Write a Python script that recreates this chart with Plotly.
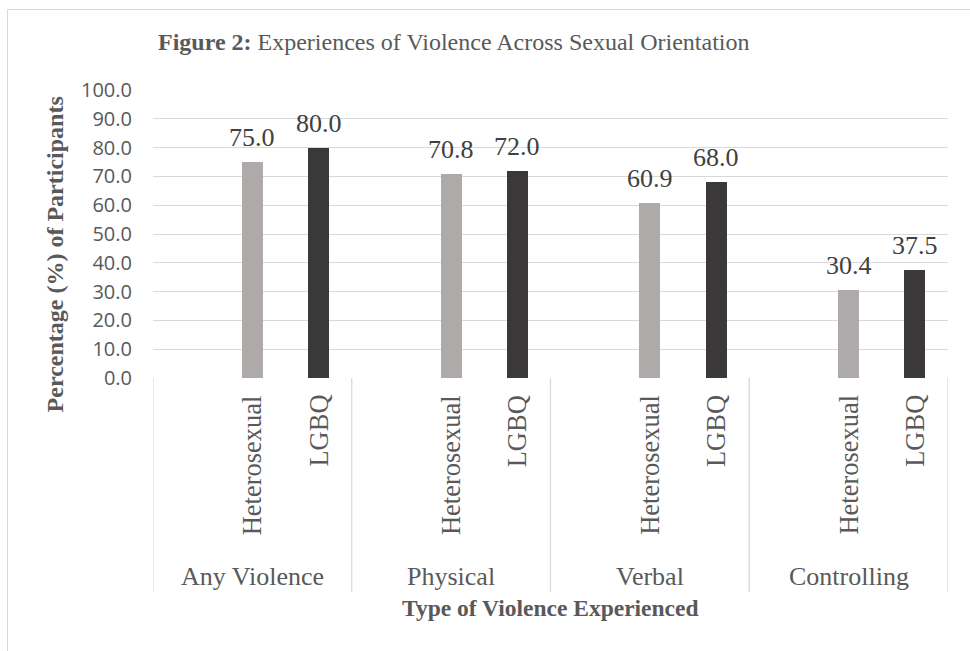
import plotly.graph_objects as go

groups = ["Any Violence", "Physical", "Verbal", "Controlling"]
orientations = ["Heterosexual", "LGBQ"]
hetero = [75.0, 70.8, 60.9, 30.4]
lgbq = [80.0, 72.0, 68.0, 37.5]
y_ticks = [0, 10, 20, 30, 40, 50, 60, 70, 80, 90, 100]

SLOTS = 3  # each group: blank slot, Heterosexual, LGBQ
het_x = [SLOTS * i + 1 for i in range(len(groups))]
lgbq_x = [SLOTS * i + 2 for i in range(len(groups))]

SERIF = "Liberation Serif, Times New Roman, serif"
SANS = "Open Sans, Liberation Sans, sans-serif"
TXT = "#595959"
GRID = "#D9D9D9"

fig = go.Figure()
fig.add_trace(go.Bar(x=het_x, y=hetero, width=0.32, marker_color="#AEAAAA",
                     marker_line_width=0, name="Heterosexual", showlegend=False))
fig.add_trace(go.Bar(x=lgbq_x, y=lgbq, width=0.32, marker_color="#3A3838",
                     marker_line_width=0, name="LGBQ", showlegend=False))

ann = []
# data labels
for xs, vals in ((het_x, hetero), (lgbq_x, lgbq)):
    for x, v in zip(xs, vals):
        ann.append(dict(x=x, y=v, xref="x", yref="y", text=f"{v:.1f}", showarrow=False,
                        yanchor="bottom", yshift=8,
                        font=dict(family=SERIF, size=26, color="#404040")))
# sub category labels
for i in range(len(groups)):
    for j, lab in enumerate(orientations):
        ann.append(dict(x=SLOTS * i + 1 + j, y=-0.052, xref="x", yref="paper", text=lab,
                        textangle=-90, showarrow=False, yanchor="top", xanchor="center",
                        font=dict(family=SERIF, size=26.5, color=TXT)))
    ann.append(dict(x=SLOTS * i + 1, y=-0.6875, xref="x", yref="paper", text=groups[i],
                    showarrow=False, yanchor="middle", xanchor="center",
                    font=dict(family=SERIF, size=26, color=TXT)))

# axis titles
ann.append(dict(x=0.5, y=-0.80, xref="paper", yref="paper",
                text="<b>Type of Violence Experienced</b>", showarrow=False,
                yanchor="middle", xanchor="center",
                font=dict(family=SERIF, size=23.5, color=TXT)))
ann.append(dict(x=-0.123, y=0.43, xref="paper", yref="paper",
                text="<b>Percentage (%) of Participants</b>", showarrow=False, textangle=-90,
                yanchor="middle", xanchor="center",
                font=dict(family=SERIF, size=24, color=TXT)))
# chart title
ann.append(dict(x=0.3786, y=1.1667, xref="paper", yref="paper",
                text="<b>Figure 2:</b> Experiences of Violence Across Sexual Orientation",
                showarrow=False, yanchor="middle", xanchor="center",
                font=dict(family=SERIF, size=24, color=TXT)))

shapes = []
n_cat = SLOTS * len(groups)
for k in range(len(groups) + 1):
    shapes.append(dict(type="line", xref="x", yref="paper", x0=SLOTS * k - 0.5, x1=SLOTS * k - 0.5,
                       y0=0, y1=-0.743, line=dict(color=GRID, width=1.3)))
# outer chart border
shapes.append(dict(type="rect", xref="paper", yref="paper",
                   x0=(7.5 - 153) / 795, x1=(990 - 153) / 795,
                   y0=(378 - 680) / 288, y1=(378 - 9.5) / 288,
                   line=dict(color=GRID, width=1), fillcolor="rgba(0,0,0,0)", layer="below"))

fig.update_layout(
    width=970, height=651,
    margin=dict(l=153, r=22, t=90, b=273),
    paper_bgcolor="white", plot_bgcolor="white",
    annotations=ann, shapes=shapes,
    bargap=0, showlegend=False,
    xaxis=dict(range=[-0.5, n_cat - 0.5], showticklabels=False, showgrid=False,
               zeroline=False, showline=False, ticks=""),
    yaxis=dict(range=[0, 100], tickvals=y_ticks, ticktext=[f"{t:.1f}" for t in y_ticks],
               showgrid=True, gridcolor=GRID, gridwidth=1.3, zeroline=False, showline=False,
               ticks="", ticklabelstandoff=20,
               tickfont=dict(family=SANS, size=20, color=TXT)),
)

fig.write_html("out.html")
